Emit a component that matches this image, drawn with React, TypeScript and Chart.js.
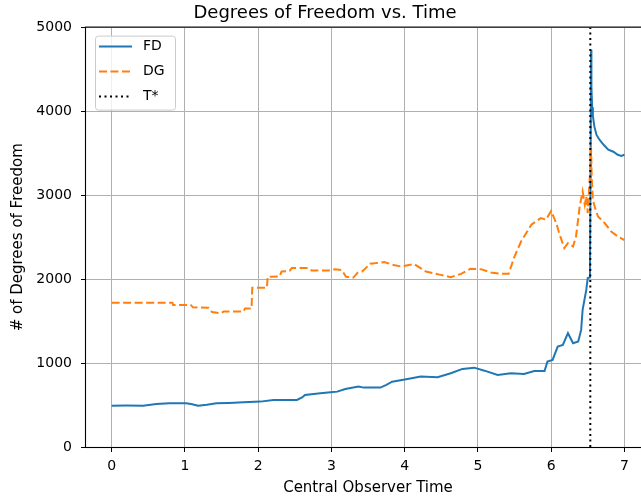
import React, { useEffect, useRef } from "react";
import { Chart, registerables } from "chart.js";

Chart.register(...registerables);

const fdTime = [0, 0.2, 0.43, 0.61, 0.79, 1.02, 1.1, 1.18, 1.3, 1.43, 1.6, 1.8, 2.03, 2.21, 2.4, 2.53, 2.6, 2.64, 2.85, 2.99, 3.08, 3.19, 3.37, 3.44, 3.67, 3.75, 3.83, 4.04, 4.22, 4.45, 4.63, 4.79, 4.95, 5.09, 5.27, 5.45, 5.63, 5.77, 5.91, 5.95, 6.02, 6.09, 6.16, 6.23, 6.3, 6.37, 6.41, 6.43, 6.48, 6.5, 6.53, 6.54, 6.545, 6.55, 6.56, 6.57, 6.59, 6.62, 6.66, 6.72, 6.78, 6.85, 6.91, 6.96, 7.0];
const fdValues = [493, 495, 493, 513, 521, 521, 510, 493, 505, 521, 525, 533, 541, 561, 560, 561, 590, 620, 640, 653, 660, 692, 720, 708, 708, 740, 779, 811, 839, 832, 879, 931, 946, 910, 859, 879, 871, 907, 906, 1018, 1038, 1197, 1217, 1357, 1237, 1257, 1396, 1635, 1873, 2013, 2020, 3500, 4737, 4300, 4050, 3950, 3822, 3720, 3663, 3600, 3544, 3520, 3484, 3470, 3484];

const dgTime = [0, 0.83, 0.84, 1.08, 1.11, 1.32, 1.37, 1.49, 1.53, 1.8, 1.82, 1.91, 1.92, 2.12, 2.13, 2.29, 2.32, 2.43, 2.46, 2.68, 2.73, 2.96, 3.05, 3.14, 3.2, 3.3, 3.36, 3.42, 3.53, 3.72, 3.85, 3.95, 4.13, 4.29, 4.49, 4.63, 4.77, 4.9, 5.04, 5.18, 5.32, 5.42, 5.5, 5.59, 5.73, 5.86, 5.93, 6.0, 6.07, 6.11, 6.18, 6.23, 6.3, 6.34, 6.39, 6.43, 6.46, 6.48, 6.5, 6.52, 6.535, 6.545, 6.555, 6.57, 6.6, 6.64, 6.73, 6.82, 6.91, 7.0];
const dgValues = [1720, 1720, 1694, 1694, 1665, 1660, 1610, 1595, 1615, 1615, 1650, 1650, 1900, 1900, 2030, 2032, 2092, 2100, 2133, 2133, 2104, 2104, 2120, 2110, 2030, 2020, 2080, 2092, 2184, 2204, 2170, 2152, 2180, 2092, 2052, 2025, 2064, 2124, 2120, 2080, 2064, 2064, 2271, 2450, 2650, 2729, 2710, 2815, 2670, 2550, 2371, 2430, 2390, 2510, 2868, 3047, 2888, 2987, 2789, 3106, 3300, 3580, 3200, 2950, 2850, 2748, 2670, 2570, 2510, 2465];

const tStar = 6.535;
const xTicks = [0, 1, 2, 3, 4, 5, 6, 7];
const yTicks = [0, 1000, 2000, 3000, 4000, 5000];
const seriesNames = ["FD", "DG", "T*"];
const seriesColors = ["#1f77b4", "#ff7f0e", "#000000"];
const seriesDashes: number[][] = [[], [8, 3.5], [2, 3.5]];

export default function App() {
  const ref = useRef<HTMLCanvasElement>(null);

  useEffect(() => {
    const canvas = ref.current;
    if (!canvas) return;

    const frame = {
      id: "frame",
      afterDatasetsDraw(chart: any) {
        const { ctx, chartArea: a } = chart;
        ctx.save();
        ctx.strokeStyle = "#000";
        ctx.lineWidth = 1.1;
        ctx.strokeRect(a.left - 0.5, a.top - 0.5, a.right - a.left + 1, a.bottom - a.top + 1);
        ctx.restore();
      },
    };

    const legendBox = {
      id: "legendBox",
      afterDraw(chart: any) {
        const { ctx, chartArea: a } = chart;
        const x0 = a.left + 9;
        const y0 = a.top + 8;
        const w = 80;
        const h = 74;
        ctx.save();
        ctx.beginPath();
        (ctx as any).roundRect(x0 + 0.5, y0 + 0.5, w, h, 3);
        ctx.fillStyle = "rgba(255,255,255,0.8)";
        ctx.fill();
        ctx.strokeStyle = "#cccccc";
        ctx.lineWidth = 1;
        ctx.stroke();
        ctx.font = "14px 'DejaVu Sans'";
        ctx.textBaseline = "middle";
        ctx.textAlign = "left";
        seriesNames.forEach((name, i) => {
          const y = y0 + 11 + i * 25;
          ctx.beginPath();
          ctx.setLineDash(seriesDashes[i]);
          ctx.strokeStyle = seriesColors[i];
          ctx.lineWidth = 2;
          ctx.moveTo(x0 + 4, y);
          ctx.lineTo(x0 + 37, y);
          ctx.stroke();
          ctx.setLineDash([]);
          ctx.fillStyle = "#000";
          ctx.fillText(name, x0 + 48, y);
        });
        ctx.restore();
      },
    };

    const chart = new Chart(canvas, {
      type: "line",
      data: {
        datasets: [
          {
            label: seriesNames[0],
            data: fdTime.map((t, i) => ({ x: t, y: fdValues[i] })),
            borderColor: seriesColors[0],
            borderWidth: 2,
            pointRadius: 0,
            fill: false,
            tension: 0,
            order: 3,
          },
          {
            label: seriesNames[1],
            data: dgTime.map((t, i) => ({ x: t, y: dgValues[i] })),
            borderColor: seriesColors[1],
            borderWidth: 2,
            borderDash: seriesDashes[1],
            pointRadius: 0,
            fill: false,
            tension: 0,
            order: 2,
          },
          {
            label: seriesNames[2],
            data: [
              { x: tStar, y: 0 },
              { x: tStar, y: 5000 },
            ],
            borderColor: seriesColors[2],
            borderWidth: 2,
            borderDash: seriesDashes[2],
            pointRadius: 0,
            fill: false,
            order: 1,
          },
        ],
      },
      options: {
        animation: false,
        responsive: false,
        maintainAspectRatio: false,
        layout: { padding: { left: 0, right: 10, top: 0, bottom: 0 } },
        font: { family: "'DejaVu Sans'" } as any,
        plugins: {
          legend: { display: false },
          tooltip: { enabled: false },
          title: {
            display: true,
            text: "Degrees of Freedom vs. Time",
            color: "#000",
            font: { family: "'DejaVu Sans'", size: 18, weight: "normal" },
            padding: { top: 2.5, bottom: 3.5 },
          },
        },
        scales: {
          x: {
            type: "linear",
            min: -0.35,
            max: 7.35,
            afterBuildTicks: (s: any) => {
              s.ticks = xTicks.map((v) => ({ value: v }));
            },
            afterFit: (s: any) => {
              s.height = 50;
            },
            grid: { color: "#b0b0b0", lineWidth: 1, tickLength: 5, tickColor: "#000" },
            border: { display: false },
            ticks: {
              autoSkip: false,
              maxRotation: 0,
              padding: 6,
              color: "#000",
              font: { family: "'DejaVu Sans'", size: 14 },
              callback: (v: any) => String(v),
            },
            title: {
              display: true,
              text: "Central Observer Time",
              color: "#000",
              font: { family: "'DejaVu Sans'", size: 15 },
              padding: { top: 0, bottom: 0 },
            },
          },
          y: {
            type: "linear",
            min: 0,
            max: 5000,
            afterBuildTicks: (s: any) => {
              s.ticks = yTicks.map((v) => ({ value: v }));
            },
            afterFit: (s: any) => {
              s.width = 86;
            },
            grid: { color: "#b0b0b0", lineWidth: 1, tickLength: 5, tickColor: "#000" },
            border: { display: false },
            ticks: {
              padding: 9,
              color: "#000",
              font: { family: "'DejaVu Sans'", size: 14 },
              callback: (v: any) => String(v),
            },
            title: {
              display: true,
              text: "# of Degrees of Freedom",
              color: "#000",
              font: { family: "'DejaVu Sans'", size: 15 },
              padding: { top: 9, bottom: 0 },
            },
          },
        },
      },
      plugins: [frame, legendBox],
    });

    return () => chart.destroy();
  }, []);

  return (
    <div
      style={{
        position: "fixed",
        left: 0,
        top: 0,
        width: 641,
        height: 497,
        overflow: "hidden",
        background: "#fff",
      }}
    >
      <canvas ref={ref} width={660} height={497} style={{ display: "block" }} />
    </div>
  );
}
